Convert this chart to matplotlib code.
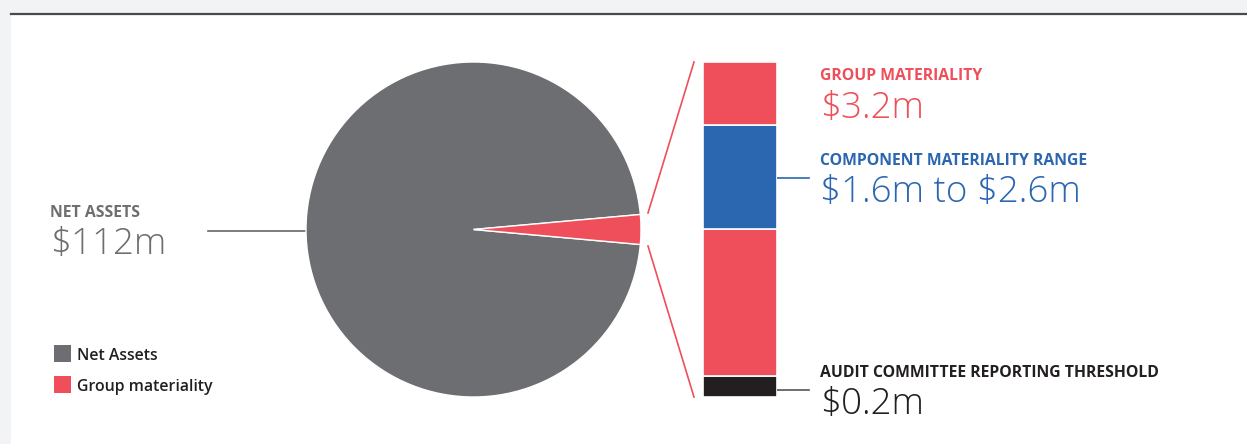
import matplotlib.pyplot as plt
from matplotlib.patches import Rectangle
from matplotlib.lines import Line2D

# figures in $m
net_assets = 112.0
group_materiality = 3.2
component_low = 1.6
component_high = 2.6
reporting_threshold = 0.2

legend_labels = ["Net Assets", "Group materiality"]

GREY = "#6d6e71"
RED = "#ef4f5a"
BLUE = "#2b66b1"
DARK = "#231f20"

W, H = 1247, 444
plt.rcParams['font.family'] = ['Open Sans', 'DejaVu Sans']
plt.rcParams['text.parse_math'] = False

fig = plt.figure(figsize=(W / 100, H / 100), dpi=100, facecolor="#f2f3f5")


def box(x0, y0, x1, y1):
    # pixel box (top-left origin) -> figure fraction rect
    return [x0 / W, 1 - y1 / H, (x1 - x0) / W, (y1 - y0) / H]


# overlay axes in pixel coordinates for panel, connectors and labels
ov = fig.add_axes([0, 0, 1, 1])
ov.set_xlim(0, W)
ov.set_ylim(H, 0)
ov.axis("off")
ov.add_patch(Rectangle((11, 14), W - 11, H - 14, facecolor="white", edgecolor="none", zorder=0))
ov.add_line(Line2D([11, W], [14, 14], color="#4a4a4a", lw=1.6, zorder=1))

# pie
ax_pie = fig.add_axes(box(306, 62, 641, 397))
slice_deg = 360 * group_materiality / net_assets
ax_pie.pie([net_assets - group_materiality, group_materiality], colors=[GREY, RED],
           startangle=slice_deg / 2, counterclock=True, radius=1,
           wedgeprops=dict(edgecolor="white", linewidth=1.0))
ax_pie.set_xlim(-1, 1)
ax_pie.set_ylim(-1, 1)
ax_pie.set_aspect("equal")
ax_pie.axis("off")

# stacked materiality bar
ax_bar = fig.add_axes(box(703, 62, 777, 397))
seg_bottoms = [0, reporting_threshold, component_low, component_high]
seg_tops = [reporting_threshold, component_low, component_high, group_materiality]
seg_colors = [DARK, RED, BLUE, RED]
for b, t, c in zip(seg_bottoms, seg_tops, seg_colors):
    ax_bar.bar(0, t - b, bottom=b, width=1, color=c, edgecolor="white", linewidth=1.2)
ax_bar.set_xlim(-0.5, 0.5)
ax_bar.set_ylim(0, group_materiality)
ax_bar.axis("off")

# connectors
ov.add_line(Line2D([648, 694], [213, 62], color=RED, lw=1.2))
ov.add_line(Line2D([648, 694], [246, 397], color=RED, lw=1.2))
ov.add_line(Line2D([777, 809], [178, 178], color=BLUE, lw=1.2))
ov.add_line(Line2D([777, 809], [390, 390], color="#555555", lw=1.2))
ov.add_line(Line2D([208, 306], [231, 231], color="#666666", lw=1.2))

# labels
def label(x, y_head, y_val, head, value, color):
    ov.text(x, y_head, head, color=color, fontsize=11.3, fontweight="bold",
            va="baseline", ha="left")
    ov.text(x, y_val, value, color=color, fontsize=26.5, fontweight="light",
            va="baseline", ha="left")


label(50, 217, 254, "NET ASSETS", f"${net_assets:.0f}m", GREY)
label(820, 80, 118, "GROUP MATERIALITY", f"${group_materiality:.1f}m", RED)
label(820, 165, 202, "COMPONENT MATERIALITY RANGE",
      f"${component_low:.1f}m to ${component_high:.1f}m", BLUE)
label(820, 377, 414, "AUDIT COMMITTEE REPORTING THRESHOLD",
      f"${reporting_threshold:.1f}m", DARK)

# legend
for i, (txt, col) in enumerate(zip(legend_labels, [GREY, RED])):
    y0 = 345 + i * 31
    ov.add_patch(Rectangle((54, y0), 17, 17, facecolor=col, edgecolor="none"))
    ov.text(77, y0 + 15, txt, color=DARK, fontsize=11.4, fontweight="semibold",
            va="baseline", ha="left")

fig.savefig("out.png", dpi=100, facecolor=fig.get_facecolor())
